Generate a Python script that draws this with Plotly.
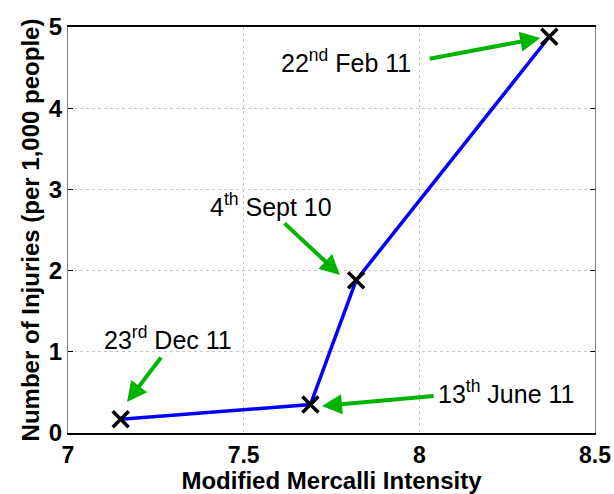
import plotly.graph_objects as go

# Earthquake events: intensity vs injuries
mmi = [7.15, 7.69, 7.82, 8.37]
injuries = [0.17, 0.35, 1.88, 4.88]

# Event labels and arrow geometry (tail -> head, data units)
labels = ["23<sup>rd</sup> Dec 11", "13<sup>th</sup> June 11",
          "4<sup>th</sup> Sept 10", "22<sup>nd</sup> Feb 11"]
label_x = [7.285, 8.247, 7.578, 7.791]
label_y = [1.17, 0.51, 2.81, 4.58]
tail_x = [7.268, 8.045, 7.612, 8.025]
tail_y = [0.948, 0.456, 2.599, 4.606]
head_x = [7.168, 7.723, 7.774, 8.344]
head_y = [0.382, 0.333, 1.946, 4.865]

x_ticks = [7, 7.5, 8, 8.5]
y_ticks = [0, 1, 2, 3, 4, 5]

GREEN = "#00b400"
FONT = "Liberation Sans, Arial, sans-serif"

fig = go.Figure()
fig.add_trace(go.Scatter(
    x=mmi, y=injuries, mode="lines+markers",
    line=dict(color="#0000ff", width=3.5),
    marker=dict(symbol="x-thin", size=16, color="black",
                line=dict(color="black", width=3.5)),
    showlegend=False,
))

annotations = []
for t, lx, ly in zip(labels, label_x, label_y):
    annotations.append(dict(
        x=lx, y=ly, xref="x", yref="y", text=t, showarrow=False,
        font=dict(family=FONT, size=25, color="black"),
        xanchor="center", yanchor="middle",
    ))
for tx, ty, hx, hy in zip(tail_x, tail_y, head_x, head_y):
    annotations.append(dict(
        x=hx, y=hy, ax=tx, ay=ty, xref="x", yref="y", axref="x", ayref="y",
        text="", showarrow=True, arrowhead=2, arrowsize=1.0, arrowwidth=4,
        arrowcolor=GREEN,
    ))

fig.update_layout(
    width=614, height=494,
    margin=dict(l=68, r=19, t=27, b=61),
    paper_bgcolor="white", plot_bgcolor="white",
    font=dict(family=FONT, color="black"),
    annotations=annotations,
    xaxis=dict(
        range=[7, 8.5], tickvals=x_ticks, ticktext=[str(v) for v in x_ticks],
        showgrid=True, gridcolor="#c8c8c8", griddash="dot", gridwidth=1,
        showline=True, linecolor="black", linewidth=2, mirror=True,
        ticks="", zeroline=False, automargin=False,
        tickfont=dict(size=23, family=FONT, weight="bold"),
        ticklabelstandoff=0,
        title=dict(text="Modified Mercalli Intensity",
                   font=dict(size=24, family=FONT, weight="bold"), standoff=6),
    ),
    yaxis=dict(
        range=[0, 5], tickvals=y_ticks, ticktext=[str(v) for v in y_ticks],
        showgrid=True, gridcolor="#c8c8c8", griddash="dot", gridwidth=1,
        showline=True, linecolor="#808080", linewidth=1, mirror="ticks",
        ticks="inside", ticklen=5, tickcolor="black", zeroline=False,
        automargin=False,
        tickfont=dict(size=24, family=FONT, weight="bold"),
        title=dict(text="Number of Injuries (per 1,000 people)",
                   font=dict(size=24, family=FONT, weight="bold"), standoff=2),
    ),
)

fig.write_html("out.html")
